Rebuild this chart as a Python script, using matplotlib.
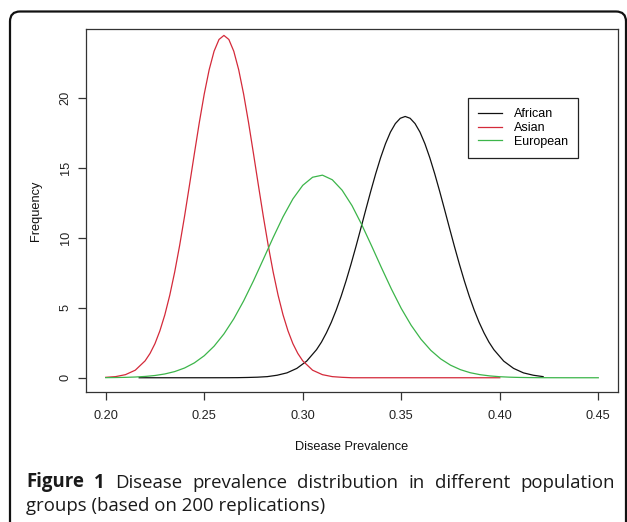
import numpy as np
import matplotlib
matplotlib.use('Agg')
import matplotlib.pyplot as plt
from matplotlib.patches import FancyBboxPatch
from matplotlib.transforms import IdentityTransform

# ---- data (density values) ----
series_names = ["African", "Asian", "European"]
series_colors = ["#111111", "#d42a3a", "#3cb54a"]

african_x = np.concatenate([np.linspace(0.217, 0.302, 18),
                            np.linspace(0.307, 0.397, 37),
                            np.linspace(0.402, 0.422, 5)])
african_y = [0, 0, 0, 0, 0, 0, 0, 0, 0.001, 0.002, 0.007, 0.02, 0.04, 0.08,
             0.18, 0.35, 0.67, 1.19,
             2.01, 2.55, 3.21, 3.97, 4.85, 5.84, 6.94, 8.13, 9.39, 10.70,
             12.03, 13.34, 14.59, 15.74, 16.75, 17.58, 18.19, 18.57, 18.7,
             18.57, 18.19, 17.58, 16.75, 15.74, 14.59, 13.34, 12.03, 10.70,
             9.39, 8.13, 6.94, 5.84, 4.85, 3.97, 3.21, 2.55, 2.01,
             1.19, 0.67, 0.35, 0.18, 0.08]

asian_x = np.concatenate([np.linspace(0.200, 0.220, 5),
                          np.linspace(0.2225, 0.2975, 31),
                          np.linspace(0.300, 0.400, 21)])
asian_y = [0.03, 0.08, 0.22, 0.54, 1.21,
           1.74, 2.44, 3.36, 4.50, 5.90, 7.56, 9.45, 11.54, 13.77, 16.04,
           18.26, 20.30, 22.04, 23.37, 24.21, 24.5, 24.21, 23.37, 22.04,
           20.30, 18.26, 16.04, 13.77, 11.54, 9.45, 7.56, 5.90, 4.50, 3.36,
           2.44, 1.74,
           1.21, 0.54, 0.22, 0.08, 0.03, 0, 0, 0, 0, 0, 0, 0, 0, 0, 0, 0,
           0, 0, 0, 0, 0]

european_x = np.linspace(0.200, 0.450, 51)
european_y = [0.007, 0.015, 0.028, 0.052, 0.093, 0.161, 0.271, 0.441, 0.696,
              1.064, 1.575, 2.258, 3.137, 4.218, 5.497, 6.938, 8.48, 10.04,
              11.52, 12.80, 13.77, 14.35, 14.50, 14.17, 13.42, 12.32, 10.94,
              9.42, 7.86, 6.35, 4.96, 3.76, 2.76, 1.96, 1.35, 0.90, 0.58,
              0.36, 0.22, 0.13, 0.074, 0.041, 0.022, 0.011, 0.005, 0.002,
              0.001, 0, 0, 0, 0]

x_ticks = [0.20, 0.25, 0.30, 0.35, 0.40, 0.45]
x_tick_labels = ["0.20", "0.25", "0.30", "0.35", "0.40", "0.45"]
y_ticks = [0, 5, 10, 15, 20]
y_tick_labels = ["0", "5", "10", "15", "20"]

x_label = "Disease Prevalence"
y_label = "Frequency"
caption_bold = ["Figure", "1"]
caption_line1 = ["Disease", "prevalence", "distribution", "in", "different", "population"]
caption_line2 = "groups (based on 200 replications)"

# ---- figure ----
W, H = 627, 522
fig = plt.figure(figsize=(W / 100, H / 100), dpi=100)
fig.patch.set_facecolor("white")

ax = fig.add_axes([86 / W, 1 - 392 / H, (618 - 86) / W, (392 - 29) / H])

tick_font = dict(family=["Liberation Sans", "DejaVu Sans"], size=9.2)

for xs, ys, name, col in zip([african_x, asian_x, european_x],
                             [african_y, asian_y, european_y],
                             series_names, series_colors):
    ax.plot(xs, ys, color=col, lw=0.9, label=name)

ax.set_xlim(0.19, 0.46)
ax.set_ylim(-1.02, 24.96)
ax.set_xticks(x_ticks)
ax.set_xticklabels(x_tick_labels, **tick_font, color="#222222")
ax.set_yticks(y_ticks)
ax.set_yticklabels(y_tick_labels, **tick_font, color="#222222", rotation=90, va="center")
ax.tick_params(axis="both", direction="out", length=5.8, width=0.9, color="#333333")
ax.tick_params(axis="x", pad=7)
ax.tick_params(axis="y", pad=4.5)
for sp in ax.spines.values():
    sp.set_color("#333333")
    sp.set_linewidth(0.9)

ax.set_xlabel(x_label, **tick_font, color="#111111", va="center")
ax.xaxis.set_label_coords(0.5, (392 - 446.7) / (392 - 29))
ax.set_ylabel(y_label, **tick_font, color="#111111", va="center")
ax.yaxis.set_label_coords((36 - 86) / (618 - 86), 0.5)

leg = ax.legend(loc="upper left",
                bbox_to_anchor=((468 - 86) / (618 - 86), (392 - 98) / (392 - 29)),
                borderaxespad=0, frameon=True, fancybox=False, framealpha=1,
                edgecolor="#222222", handlelength=1.9, handletextpad=1.0,
                borderpad=0.8, labelspacing=0.15,
                prop=dict(family=["Liberation Sans", "DejaVu Sans"], size=9))
leg.get_frame().set_linewidth(0.9)

# outer rounded border (figure panel)
border = FancyBboxPatch((10, -30), 616, 522 - 11.5 + 30,
                        boxstyle="round,pad=0,rounding_size=10",
                        transform=IdentityTransform(), fill=False,
                        edgecolor="#111111", lw=1.6, figure=fig)
fig.patches.append(border)

# caption (line 1 justified between x=26 and x=615)
cap_font = ["Open Sans", "DejaVu Sans"]
cap_size = 13.4
renderer = fig.canvas.get_renderer()
words = [(w, "bold") for w in caption_bold] + [(w, "normal") for w in caption_line1]
texts = []
for w, wt in words:
    t = fig.text(0, 0, w, family=cap_font, size=cap_size, weight=wt,
                 color="#1a1a1a", va="baseline", ha="left",
                 transform=IdentityTransform())
    texts.append(t)
widths = [t.get_window_extent(renderer).width for t in texts]
x0, x1 = 26, 615
gap = (x1 - x0 - sum(widths)) / (len(words) - 1)
xpos = x0
for t, wdt in zip(texts, widths):
    t.set_position((xpos, H - 487.5))
    xpos += wdt + gap
fig.text(26, H - 510.7, caption_line2, family=cap_font, size=cap_size,
         color="#1a1a1a", va="baseline", ha="left", transform=IdentityTransform())

fig.savefig("out.png", dpi=100, facecolor="white")
